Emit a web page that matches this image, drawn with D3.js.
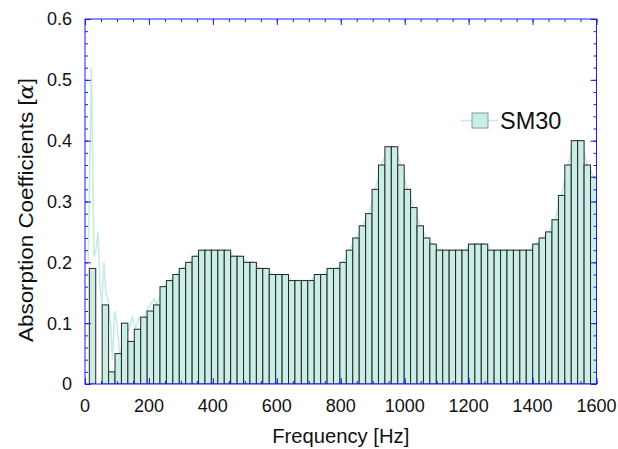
<!DOCTYPE html>
<html>
<head>
<meta charset="utf-8">
<script src="https://cdn.jsdelivr.net/npm/d3@7"></script>
<style>
  body { margin: 0; background: #fff; }
  text { font-family: "Liberation Sans", Arial, Helvetica, sans-serif; fill: #111; }
</style>
</head>
<body>
<div id="chart"></div>
<script>
// bar centres [Hz] (averaged bands)
var barFreqs = [24, 44, 64, 84, 104, 124, 144, 164, 184, 204,
  225, 245, 265, 285, 305, 325, 345, 365, 385, 405,
  426, 446, 466, 486, 506, 526, 546, 566, 586, 606,
  627, 647, 667, 687, 707, 727, 747, 767, 787, 807,
  828, 848, 868, 888, 908, 928, 948, 968, 988, 1008,
  1029, 1049, 1069, 1089, 1109, 1129, 1149, 1169, 1189, 1209,
  1230, 1250, 1270, 1290, 1310, 1330, 1350, 1370, 1390, 1410,
  1431, 1451, 1471, 1491, 1511, 1531, 1551, 1571, 1591];

// SM30 absorption coefficients per band
var barValues = [0.19, 0, 0.13, 0.02, 0.05, 0.10, 0.07, 0.09, 0.11, 0.12,
  0.13, 0.16, 0.17, 0.18, 0.19, 0.20, 0.21, 0.22, 0.22, 0.22,
  0.22, 0.22, 0.21, 0.21, 0.20, 0.20, 0.19, 0.19, 0.18, 0.18,
  0.18, 0.17, 0.17, 0.17, 0.17, 0.18, 0.18, 0.19, 0.19, 0.20,
  0.22, 0.24, 0.26, 0.28, 0.32, 0.36, 0.39, 0.39, 0.36, 0.32,
  0.29, 0.26, 0.24, 0.23, 0.22, 0.22, 0.22, 0.22, 0.22, 0.23,
  0.23, 0.23, 0.22, 0.22, 0.22, 0.22, 0.22, 0.22, 0.22, 0.23,
  0.24, 0.25, 0.27, 0.31, 0.36, 0.40, 0.40, 0.36, 0.34];

// raw (fine) line at low frequencies, visible above the bars
var rawFreqs = [10, 20, 28, 34, 41, 47, 53, 59, 65, 72, 80, 86, 93, 100, 108, 116, 127, 138, 148, 158, 169, 180, 192, 205, 216];
var rawValues = [0.20, 0.52, 0.21, 0.22, 0.25, 0.16, 0.13, 0.20, 0.15, 0.14, 0.10, 0.04, 0.12, 0.10, 0.05, 0.06, 0.08, 0.09, 0.11, 0.09, 0.11, 0.10, 0.12, 0.13, 0.14];

var xTicks = [0, 200, 400, 600, 800, 1000, 1200, 1400, 1600];
var yTicks = [0, 0.1, 0.2, 0.3, 0.4, 0.5, 0.6];
var seriesName = "SM30";

drawChart("#chart");

function drawChart(sel) {
  var width = 618, height = 449;
  var margin = { left: 85, right: 21.5, top: 19, bottom: 65 };
  var w = width - margin.left - margin.right;
  var h = height - margin.top - margin.bottom;

  var barFill = "#c9ede7";
  var lineColor = "#c4ebe5";
  var frameColor = "#1a1aff";

  var svg = d3.select(sel).append("svg")
    .attr("width", width)
    .attr("height", height);

  var x = d3.scaleLinear().domain([0, 1600]).range([0, w]);
  var y = d3.scaleLinear().domain([0, 0.6]).range([h, 0]);

  // bands: first edge 13.5 Hz, 20.1 Hz wide
  var xb = d3.scaleBand()
    .domain(barFreqs)
    .range([x(13.5), x(13.5 + 20.1 * barFreqs.length)])
    .padding(0);

  var g = svg.append("g")
    .attr("transform", "translate(" + margin.left + "," + margin.top + ")");

  g.append("clipPath").attr("id", "clip")
    .append("rect").attr("x", 0).attr("y", 0).attr("width", w).attr("height", h);

  var plot = g.append("g").attr("clip-path", "url(#clip)");

  // fine line behind the bars
  var linePts = rawFreqs.map(function(f, i) { return [x(f), y(rawValues[i])]; });
  barFreqs.forEach(function(f, i) {
    if (f > 220) linePts.push([xb(f) + xb.bandwidth() / 2, y(barValues[i])]);
  });
  plot.append("path")
    .attr("d", d3.line()(linePts))
    .attr("fill", "none")
    .attr("stroke", lineColor)
    .attr("stroke-width", 1.5);

  var bars = barFreqs.map(function(f, i) { return { f: f, v: barValues[i] }; })
    .filter(function(d) { return d.v > 0; });

  plot.selectAll("rect.bar")
    .data(bars)
    .enter()
    .append("rect")
    .attr("class", "bar")
    .attr("x", function(d) { return xb(d.f); })
    .attr("y", function(d) { return y(d.v); })
    .attr("width", xb.bandwidth())
    .attr("height", function(d) { return h - y(d.v); })
    .attr("fill", barFill)
    .attr("stroke", "#262626")
    .attr("stroke-width", 1);

  // frame with inward ticks on all sides
  function styleAxis(sel) {
    sel.select(".domain").remove();
    sel.selectAll("line").attr("stroke", frameColor);
  }
  var xMinor = d3.range(0, 1601, 50);
  var yMinor = d3.range(0, 0.601, 0.02);

  g.append("g").attr("transform", "translate(0," + h + ")")
    .call(d3.axisBottom(x).tickValues(xMinor).tickSize(-3).tickFormat("")).call(styleAxis);
  g.append("g").attr("transform", "translate(0," + h + ")")
    .call(d3.axisBottom(x).tickValues(xTicks).tickSize(-6).tickFormat("")).call(styleAxis);
  g.append("g")
    .call(d3.axisTop(x).tickValues(xMinor).tickSize(-3).tickFormat("")).call(styleAxis);
  g.append("g")
    .call(d3.axisTop(x).tickValues(xTicks).tickSize(-6).tickFormat("")).call(styleAxis);
  g.append("g")
    .call(d3.axisLeft(y).tickValues(yMinor).tickSize(-3).tickFormat("")).call(styleAxis);
  g.append("g")
    .call(d3.axisLeft(y).tickValues(yTicks).tickSize(-6).tickFormat("")).call(styleAxis);
  g.append("g").attr("transform", "translate(" + w + ",0)")
    .call(d3.axisRight(y).tickValues(yMinor).tickSize(-3).tickFormat("")).call(styleAxis);
  g.append("g").attr("transform", "translate(" + w + ",0)")
    .call(d3.axisRight(y).tickValues(yTicks).tickSize(-6).tickFormat("")).call(styleAxis);

  g.append("rect")
    .attr("width", w).attr("height", h)
    .attr("fill", "none")
    .attr("stroke", frameColor)
    .attr("stroke-width", 1);

  // tick labels
  g.selectAll(".xlab")
    .data(xTicks)
    .enter()
    .append("text")
    .attr("class", "xlab")
    .attr("x", function(d) { return x(d); })
    .attr("y", h + 28)
    .attr("text-anchor", "middle")
    .style("font-size", "18px")
    .text(function(d) { return d; });

  g.selectAll(".ylab")
    .data(yTicks)
    .enter()
    .append("text")
    .attr("class", "ylab")
    .attr("x", -13)
    .attr("y", function(d) { return y(d); })
    .attr("dy", "0.36em")
    .attr("text-anchor", "end")
    .style("font-size", "18px")
    .text(function(d) { return d === 0 ? "0" : d3.format(".1f")(d); });

  // axis titles
  g.append("text")
    .attr("x", w / 2)
    .attr("y", h + 59)
    .attr("text-anchor", "middle")
    .attr("textLength", 137)
    .attr("lengthAdjust", "spacingAndGlyphs")
    .style("font-size", "20px")
    .text("Frequency [Hz]");

  var yt = g.append("text")
    .attr("transform", "translate(-52," + (h / 2 + 8.5) + ") rotate(-90)")
    .attr("text-anchor", "middle")
    .attr("textLength", 264)
    .attr("lengthAdjust", "spacingAndGlyphs")
    .style("font-size", "20px");
  yt.append("tspan").text("Absorption Coefficients [");
  yt.append("tspan").style("font-family", "'DejaVu Serif', serif").style("font-style", "italic").text("α");
  yt.append("tspan").text("]");

  // legend
  var lg = svg.append("g").attr("transform", "translate(461,120.5)");
  lg.append("line")
    .attr("x1", 0).attr("x2", 37)
    .attr("stroke", lineColor).attr("stroke-width", 1.5);
  lg.append("rect")
    .attr("x", 11).attr("y", -7.5).attr("width", 16).attr("height", 15)
    .attr("fill", barFill).attr("stroke", "#8a9a98");
  lg.append("text")
    .attr("x", 39).attr("y", 8)
    .style("font-size", "23.5px")
    .text(seriesName);
}
</script>
</body>
</html>
